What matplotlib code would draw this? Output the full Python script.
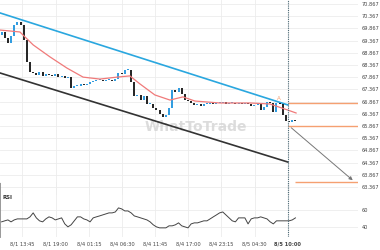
import numpy as np
import matplotlib.pyplot as plt

# 30-minute closes
closes = [69.72, 69.47, 69.27, 69.56, 70.01, 70.13, 70.01, 69.39, 68.49, 68.08,
          68.04, 67.96, 68.08, 67.92, 68.00, 67.96, 67.92, 68.00, 67.87, 67.92,
          67.83, 67.87, 67.42, 67.50, 67.50, 67.59, 67.55, 67.59, 67.67, 67.71,
          67.75, 67.75, 67.71, 67.75, 67.75, 67.71, 67.79, 68.04, 68.00, 68.16,
          68.16, 67.67, 67.10, 67.14, 66.93, 67.10, 66.77, 66.77, 66.60, 66.52,
          66.36, 66.23, 66.32, 66.60, 67.34, 67.26, 67.42, 67.18, 66.93, 66.89,
          66.81, 66.73, 66.77, 66.69, 66.77, 66.77, 66.81, 66.77, 66.81, 66.81,
          66.85, 66.77, 66.81, 66.81, 66.77, 66.81, 66.77, 66.81, 66.77, 66.69,
          66.73, 66.81, 66.52, 66.64, 66.85, 66.81, 66.44, 66.81, 66.77, 66.32,
          66.07, 66.03, 66.11, 66.07]
first_open = 69.60

# moving average (candle index, price)
ma_x = [-0.5, 5.8, 10.0, 15.3, 20.7, 25.8, 31.1, 36.5, 40.6, 43.8, 48.5, 53.3, 57.4, 61.2, 69.1, 78.6, 84.9, 90.6, 93.2]
ma_y = [69.80, 69.72, 69.19, 68.70, 68.24, 67.87, 67.79, 67.87, 67.92, 67.59, 67.14, 66.93, 67.06, 66.89, 66.81, 66.81, 66.77, 66.52, 66.40]

rsi = [45.9, 47.1, 48.2, 45.9, 48.2, 49.4, 49.4, 49.4, 49.4, 51.8,
       56.5, 50.6, 47.1, 45.9, 49.4, 51.8, 50.6, 48.2, 49.4, 50.6,
       43.5, 40.0, 42.4, 47.1, 51.8, 51.8, 49.4, 48.2, 45.9, 50.6,
       51.8, 52.9, 54.1, 55.3, 56.5, 56.5, 57.6, 62.4, 61.2, 58.8,
       58.8, 56.5, 52.9, 51.8, 50.6, 49.4, 48.2, 45.9, 42.4, 40.0,
       38.8, 38.8, 38.8, 41.2, 41.2, 42.4, 44.7, 41.2, 40.0, 38.8,
       43.5, 44.7, 44.7, 45.9, 47.1, 47.1, 49.4, 51.8, 54.1, 56.5,
       57.6, 54.1, 50.6, 47.1, 45.9, 50.6, 50.6, 50.6, 43.5, 49.4,
       50.6, 50.6, 51.8, 50.6, 49.4, 45.9, 43.5, 47.1, 47.1, 47.1,
       47.1, 47.1, 48.2, 50.6]

tick_labels = ["8/1 13:45", "8/1 19:00", "8/4 01:15", "8/4 06:30", "8/4 11:45",
               "8/4 17:00", "8/4 23:15", "8/5 04:30", "8/5 10:00"]
price_levels = [63.367, 63.867, 64.367, 64.867, 65.367, 65.867, 66.367, 66.867,
                67.367, 67.867, 68.367, 68.867, 69.367, 69.867, 70.367, 70.867]

upper_channel = ([-0.5, 90.6], [70.50, 66.73])
lower_channel = ([-0.5, 90.6], [68.04, 64.39])
now_idx = 90.6
level_hi = 66.79
level_cur = 65.87
target = 63.57
arrow_start = (91.0, 65.87)
arrow_end = (111.8, 63.57)

opens = [first_open] + closes[:-1]
idx = np.arange(len(closes))
ticks = 6.6 + 10.5 * np.arange(len(tick_labels))
xmin, xmax = -0.5, 112.8

fig = plt.figure(figsize=(3.8, 2.5), dpi=100)
ax = fig.add_axes([0, 1 - 195 / 250, 358 / 380, 195 / 250])
rax = fig.add_axes([0, 13 / 250, 358 / 380, 55 / 250])
rax.patch.set_alpha(0)

grid_c = "#ececec"
for t in ticks:
    ax.axvline(t, color=grid_c, lw=0.6, zorder=0)
    rax.axvline(t, color=grid_c, lw=0.6, zorder=0)
for p in price_levels:
    ax.axhline(p, color=grid_c, lw=0.6, zorder=0)

ax.text(61.5, 65.82, "WhatToTrade", color="#d4d4d4", alpha=0.8,
        fontsize=10, fontweight="bold", ha="center", va="center", zorder=1)

ax.plot(*upper_channel, color="#2aa7df", lw=1.2, zorder=2)
ax.plot(*lower_channel, color="#333333", lw=1.2, zorder=2)

for i in idx:
    o, c = opens[i], closes[i]
    col = "#2d9be0" if c >= o else "#222222"
    lo, hi = min(o, c), max(o, c)
    if hi - lo < 0.03:
        hi = lo + 0.03
    ax.vlines(i, lo, hi, color=col, lw=1.4, zorder=3)

ax.plot(ma_x, ma_y, color="#f07a7a", lw=0.9, zorder=4)

orange = "#f5a071"
ax.hlines(level_hi, now_idx, xmax, color=orange, lw=1.0, zorder=4)
ax.hlines(level_cur, now_idx, xmax, color=orange, lw=1.0, zorder=4)
ax.hlines(target, 92.8, xmax, color=orange, lw=1.0, zorder=4)
ax.text(87.8, 66.88, "A", color=orange, fontsize=4, ha="center", va="bottom")
ax.annotate("", xy=arrow_end, xytext=arrow_start,
            arrowprops=dict(arrowstyle="-|>", color="#777777", lw=0.7, mutation_scale=5))

ax.axvline(now_idx, color="#4d6b78", lw=0.8, ls=(0, (1, 1)), zorder=5)
rax.axvline(now_idx, color="#4d6b78", lw=0.8, ls=(0, (1, 1)), zorder=5)

ax.set_xlim(xmin, xmax)
ax.set_ylim(63.04, 71.03)
ax.set_xticks([])
ax.yaxis.tick_right()
ax.set_yticks(price_levels)
ax.set_yticklabels(["%.3f" % p for p in price_levels])
ax.tick_params(axis="y", length=0, pad=2.5, labelsize=3.6, labelcolor="#444444")
for s in ax.spines.values():
    s.set_visible(False)

rax.plot(idx, rsi, color="#444444", lw=0.7)
rax.axhline(60, color=grid_c, lw=0.6, zorder=0)
rax.axhline(40, color=grid_c, lw=0.6, zorder=0)
rax.set_xlim(xmin, xmax)
rax.set_ylim(28, 93)
rax.yaxis.tick_right()
rax.set_yticks([40, 60])
rax.tick_params(axis="y", length=0, pad=2.5, labelsize=3.6, labelcolor="#444444")
rax.set_xticks(ticks)
rax.set_xticklabels(tick_labels)
rax.tick_params(axis="x", length=0, pad=3, labelsize=3.7, labelcolor="#444444")
rax.get_xticklabels()[-1].set_fontweight("bold")
for s in rax.spines.values():
    s.set_visible(False)
rax.spines["left"].set_visible(True)
rax.spines["left"].set_color("#888888")
rax.spines["left"].set_linestyle((0, (1, 1)))
rax.spines["left"].set_linewidth(0.6)
rax.text(0.3, 75, "RSI", fontsize=3.9, fontweight="bold", color="#333333", va="center")

fig.savefig("out.png", dpi=100)
